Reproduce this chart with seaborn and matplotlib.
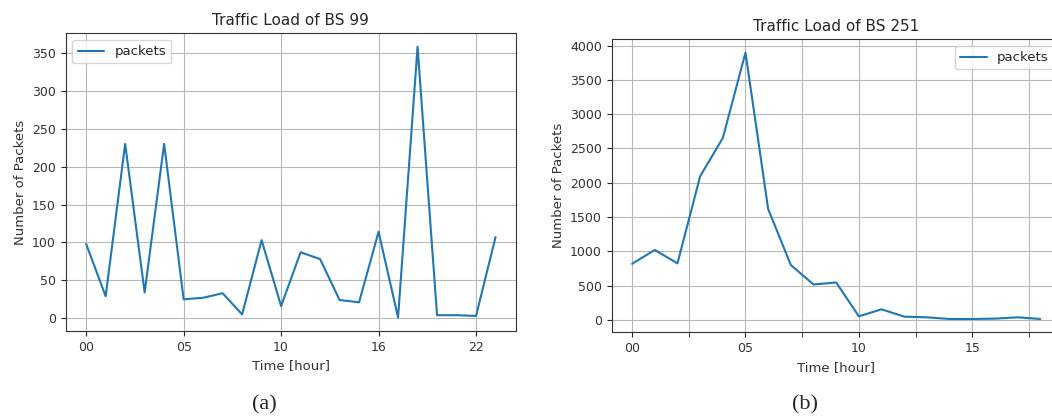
import numpy as np
import pandas as pd
import matplotlib
matplotlib.use("Agg")
import matplotlib.pyplot as plt
import seaborn as sns

# BS 99 - hourly packets (some hours missing, so index positions are used)
bs99_pos = list(range(22))
bs99_packets = [98, 29, 230, 34, 230, 25, 27, 33, 5, 103, 16, 87, 78, 24,
                21, 114, 1, 358, 4, 4, 3, 107]
bs99_ticks = [0, 5, 10, 15, 20]
bs99_labels = ["00", "05", "10", "16", "22"]

# BS 251 - hourly packets
bs251_pos = list(range(19))
bs251_packets = [820, 1021, 825, 2095, 2652, 3897, 1617, 801, 518, 547, 54,
                 156, 49, 39, 15, 15, 20, 39, 15]
bs251_ticks = [0, 5, 10, 15]
bs251_labels = ["00", "05", "10", "15"]
bs251_minor = [2.5, 7.5, 12.5, 17.5]

sns.set_style("ticks", {"axes.grid": True, "grid.color": "#b8b8b8",
                        "axes.edgecolor": "#333333"})
plt.rcParams["font.family"] = ["DejaVu Sans"]
plt.rcParams["font.size"] = 9
plt.rcParams["xtick.labelsize"] = 9
plt.rcParams["ytick.labelsize"] = 9
plt.rcParams["axes.labelsize"] = 9.5
plt.rcParams["legend.fontsize"] = 9.5

W, H = 1052, 419
fig = plt.figure(figsize=(W / 100, H / 100), dpi=100)

ax1 = fig.add_axes([65.7 / W, (H - 331) / H, (516 - 65.7) / W, (331 - 33.3) / H])
df1 = pd.DataFrame({"pos": bs99_pos, "packets": bs99_packets})
sns.lineplot(data=df1, x="pos", y="packets", ax=ax1, label="packets",
             color="#1f77b4", linewidth=1.5)
ax1.set_xticks(bs99_ticks)
ax1.set_xticklabels(bs99_labels)
ax1.set_title("Traffic Load of BS 99", fontsize=11)
ax1.set_xlabel("Time [hour]")
ax1.set_ylabel("Number of Packets")
ax1.legend(loc="upper left")

ax2 = fig.add_axes([611.7 / W, (H - 332.3) / H, (1060.7 - 611.7) / W, (332.3 - 39.3) / H])
df2 = pd.DataFrame({"pos": bs251_pos, "packets": bs251_packets})
sns.lineplot(data=df2, x="pos", y="packets", ax=ax2, label="packets",
             color="#1f77b4", linewidth=1.5)
ax2.set_xticks(bs251_ticks)
ax2.set_xticklabels(bs251_labels)
ax2.set_xticks(bs251_minor, minor=True)
ax2.tick_params(axis="x", which="minor", length=3.5)
ax2.grid(True, which="both", color="#b8b8b8")
ax2.set_title("Traffic Load of BS 251", fontsize=11)
ax2.set_xlabel("Time [hour]")
ax2.set_ylabel("Number of Packets")
ax2.legend(loc="upper right")

for ax in (ax1, ax2):
    for lab in ax.get_xticklabels() + ax.get_yticklabels():
        lab.set_color("#333333")
    ax.xaxis.label.set_color("#333333")
    ax.yaxis.label.set_color("#333333")

fig.text(264 / W, 1 - 405 / H, "(a)", ha="center", va="center",
         family="Liberation Serif", fontsize=16)
fig.text(805 / W, 1 - 405 / H, "(b)", ha="center", va="center",
         family="Liberation Serif", fontsize=16)

fig.savefig("out.png", dpi=100)
